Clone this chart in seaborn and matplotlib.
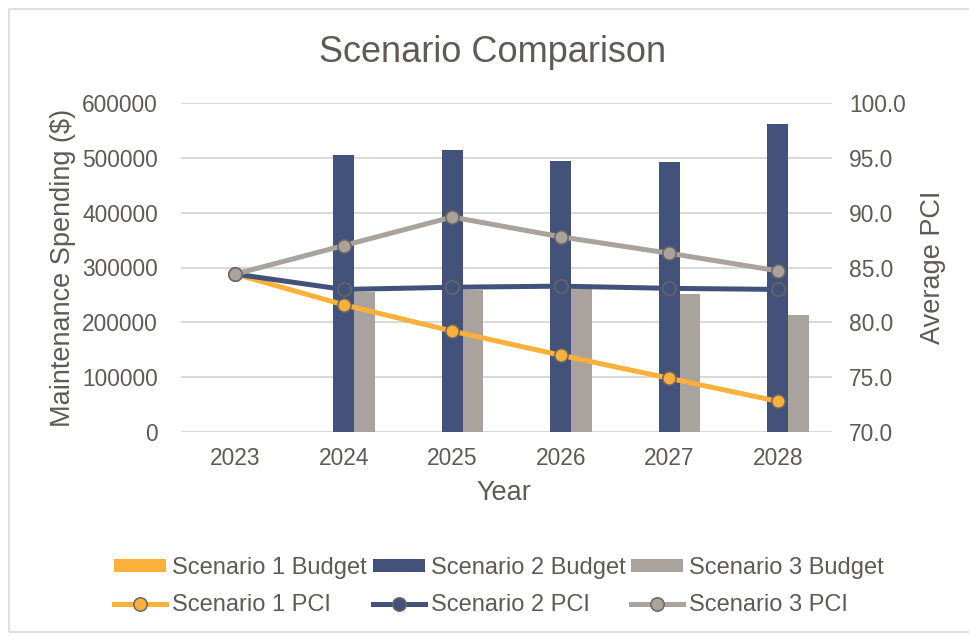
import numpy as np
import pandas as pd
import matplotlib
matplotlib.use("Agg")
import matplotlib.pyplot as plt
from matplotlib.patches import Patch, Rectangle
from matplotlib.lines import Line2D
import seaborn as sns

# ---- data ----
years = ["2023", "2024", "2025", "2026", "2027", "2028"]
s1_budget = [0, 0, 0, 0, 0, 0]
s2_budget = [0, 506000, 515000, 494000, 492000, 562000]
s3_budget = [0, 256000, 259000, 260000, 252000, 213000]
s1_pci = [84.4, 81.6, 79.2, 77.0, 74.9, 72.8]
s2_pci = [84.4, 83.0, 83.2, 83.3, 83.1, 83.0]
s3_pci = [84.4, 87.0, 89.6, 87.8, 86.3, 84.7]
budget_names = ["Scenario 1 Budget", "Scenario 2 Budget", "Scenario 3 Budget"]
pci_names = ["Scenario 1 PCI", "Scenario 2 PCI", "Scenario 3 PCI"]
left_ticks = [0, 100000, 200000, 300000, 400000, 500000, 600000]
right_ticks = [70.0, 75.0, 80.0, 85.0, 90.0, 95.0, 100.0]

# ---- style ----
colors = ["#FBB03B", "#43527A", "#A9A29D"]
text_color = "#5E5A55"
grid_color = "#D9D9D9"
edge_color = "#6B6661"

plt.rcParams["font.family"] = ["Liberation Sans", "DejaVu Sans"]

df = pd.DataFrame({
    "year": years * 3,
    "scenario": sum([[n] * len(years) for n in budget_names], []),
    "budget": s1_budget + s2_budget + s3_budget,
})

fig = plt.figure(figsize=(9.69, 6.37), dpi=100)
ax = fig.add_axes([181 / 969, 1 - 432 / 637, 651 / 969, 329 / 637])

sns.barplot(data=df, x="year", y="budget", hue="scenario", hue_order=budget_names,
            palette=colors, width=0.575, saturation=1, errorbar=None,
            legend=False, ax=ax, linewidth=0)
ax.set_xlim(-0.5, len(years) - 0.5)
ax.set_ylim(0, 600000)
ax.set_yticks(left_ticks)
ax.set_yticklabels([str(v) for v in left_ticks])
ax.set_axisbelow(True)
ax.grid(axis="y", color=grid_color, linewidth=1.4)
ax.grid(axis="x", visible=False)
for s in ax.spines.values():
    s.set_visible(False)
ax.tick_params(axis="both", length=0, colors=text_color, labelsize=16.4)
ax.tick_params(axis="y", pad=16.5)
ax.tick_params(axis="x", pad=11)
ax.set_xlabel("Year", fontsize=19.5, color=text_color)
ax.set_ylabel("Maintenance Spending ($)", fontsize=19.5, color=text_color)
ax.xaxis.set_label_coords(0.496, -0.146)
ax.yaxis.set_label_coords(-0.162, 0.5)

ax2 = ax.twinx()
idx = np.arange(len(years))
for vals, c in zip([s1_pci, s2_pci, s3_pci], colors):
    sns.lineplot(x=idx, y=vals, color=c, linewidth=3.6, marker="o", markersize=9.6,
                 markeredgecolor=edge_color, markeredgewidth=1.1, ax=ax2)
ax2.set_ylim(70, 100)
ax2.set_yticks(right_ticks)
ax2.set_yticklabels([f"{v:.1f}" for v in right_ticks])
for s in ax2.spines.values():
    s.set_visible(False)
ax2.grid(False)
ax2.tick_params(axis="y", length=0, colors=text_color, labelsize=16.4, pad=12.2)
ax2.set_ylabel("Average PCI", fontsize=19.5, color=text_color)
ax2.yaxis.set_label_coords(1.135, 0.5)

fig.text(493 / 969, 1 - 62 / 637, "Scenario Comparison", ha="center", va="baseline",
         fontsize=26, color=text_color)

handles = []
labels = []
for i in range(3):
    handles.append(Patch(facecolor=colors[i], edgecolor="none"))
    labels.append(budget_names[i])
    handles.append(Line2D([0], [0], color=colors[i], linewidth=3.6, marker="o",
                          markersize=9.6, markerfacecolor=colors[i],
                          markeredgecolor=edge_color, markeredgewidth=1.1))
    labels.append(pci_names[i])
leg = fig.legend(handles, labels, ncol=3, loc="center",
                 bbox_to_anchor=(499 / 969, 1 - 586.5 / 637), frameon=False,
                 fontsize=17, handlelength=2.2, handleheight=0.5,
                 handletextpad=0.25, columnspacing=0.25, labelspacing=0.65,
                 borderpad=0)
for t in leg.get_texts():
    t.set_color(text_color)

fig.patches.append(Rectangle((9 / 969, 1 - 632 / 637), 1.0, 623 / 637,
                             transform=fig.transFigure, fill=False,
                             edgecolor=grid_color, linewidth=1.2))

fig.savefig("out.png", dpi=100)
